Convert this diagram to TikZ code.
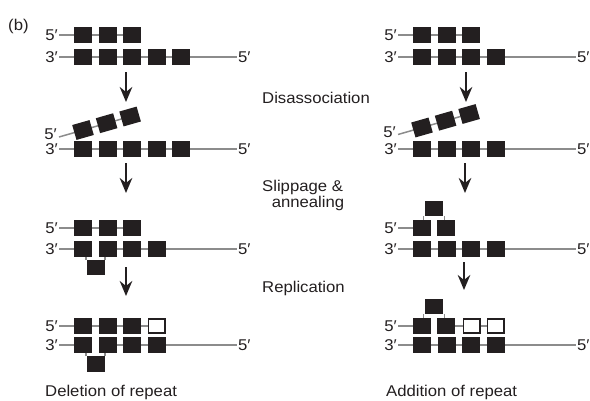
\documentclass[tikz,border=0pt]{standalone}
\usepackage{fontspec}
\setmainfont{Liberation Sans}[FakeStretch=1.07]
\usetikzlibrary{arrows.meta,backgrounds}
\definecolor{sqc}{HTML}{231F20}
\definecolor{strc}{HTML}{8C8C8C}
\begin{document}
\begin{tikzpicture}[x=1pt,y=-1pt,
  sq/.style={rectangle,fill=sqc,minimum width=18pt,minimum height=15.5pt,inner sep=0pt},
  osq/.style={rectangle,draw=sqc,line width=1.6pt,fill=white,minimum width=16.4pt,minimum height=13.9pt,inner sep=0pt},
  strand/.style={draw=strc,line width=1.5pt},
  loopln/.style={draw=strc,line width=1.3pt},
  lab/.style={inner sep=0pt,font=\fontsize{15.6}{17}\selectfont,text=sqc},
  arr/.style={-{Stealth[length=15pt,width=12.5pt,inset=5pt]},line width=2.6pt,draw=sqc}]
\useasboundingbox (0,0) rectangle (590,400);

\node[lab,anchor=base west] (b) at (8,30) {(b)};

% ================= LEFT PANEL =================
% row 1
\node[lab,anchor=east] (L1a) at (58,35) {5′};
\foreach \i/\x in {1/83,2/107.5,3/132} \node[sq] (L1s\i) at (\x,35) {};
% row 2
\node[lab,anchor=east] (L2a) at (58,57) {3′};
\node[lab,anchor=west] (L2b) at (238,57) {5′};
\foreach \i/\x in {1/83,2/107.5,3/132,4/156.5,5/181} \node[sq] (L2s\i) at (\x,57) {};
% row 3 (tilted)
\node[lab,anchor=east] (L3a) at (57,134) {5′};
\coordinate (L3o) at (59,137);
\foreach \i/\x/\y in {1/83/130,2/106.6/123.2,3/130.1/116.5} \node[sq,rotate=16] (L3s\i) at (\x,\y) {};
% row 4
\node[lab,anchor=east] (L4a) at (58,149) {3′};
\node[lab,anchor=west] (L4b) at (238,149) {5′};
\foreach \i/\x in {1/83,2/107.5,3/132,4/156.5,5/181} \node[sq] (L4s\i) at (\x,149) {};
% row 5
\node[lab,anchor=east] (L5a) at (58,228) {5′};
\foreach \i/\x in {1/83,2/107.5,3/132} \node[sq] (L5s\i) at (\x,228) {};
% row 6
\node[lab,anchor=east] (L6a) at (58,249) {3′};
\node[lab,anchor=west] (L6b) at (238,249) {5′};
\foreach \i/\x in {1/83,2/107.5,3/132,4/156.5} \node[sq] (L6s\i) at (\x,249) {};
\node[sq] (L6L) at (95.5,267.5) {};
% row 7
\node[lab,anchor=east] (L7a) at (58,326) {5′};
\foreach \i/\x in {1/83,2/107.5,3/132} \node[sq] (L7s\i) at (\x,326) {};
\node[osq] (L7s4) at (156.5,326) {};
% row 8
\node[lab,anchor=east] (L8a) at (58,345) {3′};
\node[lab,anchor=west] (L8b) at (238,345) {5′};
\foreach \i/\x in {1/83,2/107.5,3/132,4/156.5} \node[sq] (L8s\i) at (\x,345) {};
\node[sq] (L8L) at (95.5,364) {};

\node[lab,anchor=base west] (Ldel) at (45,396) {Deletion of repeat};

% arrows left
\coordinate (La1) at (126,72);  \coordinate (La1h) at (126,102);
\coordinate (La2) at (126,163); \coordinate (La2h) at (126,193);
\coordinate (La3) at (126,267); \coordinate (La3h) at (126,296);
\draw[arr] (La1) -- (La1h);
\draw[arr] (La2) -- (La2h);
\draw[arr] (La3) -- (La3h);

% ================= RIGHT PANEL =================
% row 1
\node[lab,anchor=east] (R1a) at (397,35) {5′};
\foreach \i/\x in {1/422,2/446.5,3/471} \node[sq] (R1s\i) at (\x,35) {};
% row 2
\node[lab,anchor=east] (R2a) at (397,57) {3′};
\node[lab,anchor=west] (R2b) at (577,57) {5′};
\foreach \i/\x in {1/422,2/446.5,3/471,4/495.5} \node[sq] (R2s\i) at (\x,57) {};
% row 3 (tilted)
\node[lab,anchor=east] (R3a) at (396,132) {5′};
\coordinate (R3o) at (398,134.5);
\foreach \i/\x/\y in {1/422/127.5,2/445.6/120.7,3/469.1/114} \node[sq,rotate=16] (R3s\i) at (\x,\y) {};
% row 4
\node[lab,anchor=east] (R4a) at (397,149) {3′};
\node[lab,anchor=west] (R4b) at (577,149) {5′};
\foreach \i/\x in {1/422,2/446.5,3/471,4/495.5} \node[sq] (R4s\i) at (\x,149) {};
% row 5
\node[lab,anchor=east] (R5a) at (397,228) {5′};
\foreach \i/\x in {1/422,2/446} \node[sq] (R5s\i) at (\x,228) {};
\node[sq] (R5B) at (434,208.5) {};
% row 6
\node[lab,anchor=east] (R6a) at (397,249) {3′};
\node[lab,anchor=west] (R6b) at (577,249) {5′};
\foreach \i/\x in {1/422,2/446.5,3/471,4/495.5} \node[sq] (R6s\i) at (\x,249) {};
% row 7
\node[lab,anchor=east] (R7a) at (397,326) {5′};
\foreach \i/\x in {1/422,2/446} \node[sq] (R7s\i) at (\x,326) {};
\node[osq] (R7s3) at (471.5,326) {};
\node[osq] (R7s4) at (495.5,326) {};
\node[sq] (R7B) at (434,306.5) {};
% row 8
\node[lab,anchor=east] (R8a) at (397,345) {3′};
\node[lab,anchor=west] (R8b) at (577,345) {5′};
\foreach \i/\x in {1/422,2/446.5,3/471,4/495.5} \node[sq] (R8s\i) at (\x,345) {};

\node[lab,anchor=base west] (Radd) at (386,396) {Addition of repeat};

% arrows right
\coordinate (Ra1) at (466,72);  \coordinate (Ra1h) at (466,102);
\coordinate (Ra2) at (465,163); \coordinate (Ra2h) at (465,193);
\coordinate (Ra3) at (464,262); \coordinate (Ra3h) at (464,290);
\draw[arr] (Ra1) -- (Ra1h);
\draw[arr] (Ra2) -- (Ra2h);
\draw[arr] (Ra3) -- (Ra3h);

% ================= MIDDLE LABELS =================
\node[lab,anchor=base west] (dis) at (262,103.5) {Disassociation};
\node[lab,anchor=base west] (slip) at (262,191) {Slippage \&};
\node[lab,anchor=base] (ann) at (308,207) {annealing};
\node[lab,anchor=base west] (rep) at (262,292.5) {Replication};

% ================= STRANDS (background) =================
\begin{scope}[on background layer]
  % left
  \draw[strand,shorten <=1pt] (L1a.east) -- (L1s3.center);
  \draw[strand,shorten <=1pt,shorten >=1.5pt] (L2a.east) -- (L2b.west);
  \draw[strand] (L3o) -- (L3s3.center);
  \draw[strand,shorten <=1pt,shorten >=1.5pt] (L4a.east) -- (L4b.west);
  \draw[strand,shorten <=1pt] (L5a.east) -- (L5s3.center);
  \draw[strand,shorten <=1pt] (L6a.east) -- (L6s1.center);
  \draw[strand,shorten >=1.5pt] (L6s2.center) -- (L6b.west);
  \draw[loopln] ([xshift=-0.3pt]L6L.north west) -- ([xshift=-0.3pt]L6L.north west |- L6s1.south);
  \draw[loopln] ([xshift=0.3pt]L6L.north east) -- ([xshift=0.3pt]L6L.north east |- L6s2.south);
  \draw[strand,shorten <=1pt] (L7a.east) -- (L7s4.center);
  \draw[strand,shorten <=1pt] (L8a.east) -- (L8s1.center);
  \draw[strand,shorten >=1.5pt] (L8s2.center) -- (L8b.west);
  \draw[loopln] ([xshift=-0.3pt]L8L.north west) -- ([xshift=-0.3pt]L8L.north west |- L8s1.south);
  \draw[loopln] ([xshift=0.3pt]L8L.north east) -- ([xshift=0.3pt]L8L.north east |- L8s2.south);
  % right
  \draw[strand,shorten <=1pt] (R1a.east) -- (R1s3.center);
  \draw[strand,shorten <=1pt,shorten >=1.5pt] (R2a.east) -- (R2b.west);
  \draw[strand] (R3o) -- (R3s3.center);
  \draw[strand,shorten <=1pt,shorten >=1.5pt] (R4a.east) -- (R4b.west);
  \draw[strand,shorten <=1pt] (R5a.east) -- (R5s1.center);
  \draw[loopln] ([xshift=-1.5pt]R5B.south west) -- ([xshift=-1.5pt]R5B.south west |- R5s1.north);
  \draw[loopln] ([xshift=1.5pt]R5B.south east) -- ([xshift=1.5pt]R5B.south east |- R5s2.north);
  \draw[strand,shorten <=1pt,shorten >=1.5pt] (R6a.east) -- (R6b.west);
  \draw[strand,shorten <=1pt] (R7a.east) -- (R7s1.center);
  \draw[strand] (R7s2.center) -- (R7s4.center);
  \draw[loopln] ([xshift=-1.5pt]R7B.south west) -- ([xshift=-1.5pt]R7B.south west |- R7s1.north);
  \draw[loopln] ([xshift=1.5pt]R7B.south east) -- ([xshift=1.5pt]R7B.south east |- R7s2.north);
  \draw[strand,shorten <=1pt,shorten >=1.5pt] (R8a.east) -- (R8b.west);
\end{scope}
\end{tikzpicture}
\end{document}
